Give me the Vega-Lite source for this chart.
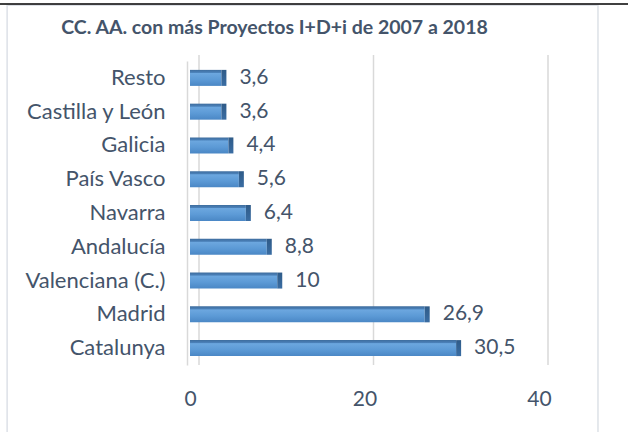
{
  "$schema": "https://vega.github.io/schema/vega-lite/v6.json",
  "width": 349,
  "height": 304,
  "autosize": {"type": "none"},
  "padding": {"left": 190, "top": 61, "right": 89, "bottom": 67},
  "background": "white",
  "config": {
    "locale": {"number": {"decimal": ",", "thousands": ".", "grouping": [3], "currency": ["", " €"]}},
    "view": {"stroke": null},
    "font": "Lato"
  },
  "title": {
    "text": "CC. AA. con más Proyectos I+D+i de 2007 a 2018",
    "font": "Lato",
    "fontSize": 19.5,
    "fontWeight": "bold",
    "color": "#44546A",
    "anchor": "middle",
    "frame": "group",
    "baseline": "alphabetic",
    "dx": -90,
    "offset": -50
  },
  "layer": [
    {
      "data": {"values": [{}]},
      "layer": [
        {
          "mark": {"type": "rect", "fill": "transparent", "stroke": "#DDE1E7", "strokeWidth": 1.5},
          "encoding": {
            "x": {"datum": -0.524, "type": "quantitative", "scale": {"domain": [0, 1]}, "axis": null},
            "x2": {"datum": 1.169},
            "y": {"datum": -0.263, "type": "quantitative", "scale": {"domain": [0, 1]}, "axis": null},
            "y2": {"datum": 1.183}
          }
        },
        {
          "mark": {"type": "rule", "color": "black", "strokeWidth": 1.6},
          "encoding": {
            "x": {"datum": -0.6, "type": "quantitative"},
            "x2": {"datum": 1.3},
            "y": {"datum": 1.1875, "type": "quantitative"}
          }
        }
      ]
    },
    {
      "data": {
        "values": [
          {"region": "Resto", "value": 3.6},
          {"region": "Castilla y León", "value": 3.6},
          {"region": "Galicia", "value": 4.4},
          {"region": "País Vasco", "value": 5.6},
          {"region": "Navarra", "value": 6.4},
          {"region": "Andalucía", "value": 8.8},
          {"region": "Valenciana (C.)", "value": 10},
          {"region": "Madrid", "value": 26.9},
          {"region": "Catalunya", "value": 30.5}
        ]
      },
      "encoding": {
        "y": {
          "field": "region",
          "type": "nominal",
          "sort": ["Resto", "Castilla y León", "Galicia", "País Vasco", "Navarra", "Andalucía", "Valenciana (C.)", "Madrid", "Catalunya"],
          "scale": {"paddingInner": 0.526, "paddingOuter": 0.263},
          "axis": {
            "orient": "left",
            "title": null,
            "ticks": false,
            "domainColor": "#D9D9D9",
            "domainWidth": 1.5,
            "offset": 3,
            "labelPadding": 22,
            "labelFont": "Lato",
            "labelFontSize": 22,
            "labelColor": "#44546A"
          }
        },
        "x": {
          "field": "value",
          "type": "quantitative",
          "scale": {"domain": [0, 40]},
          "axis": {
            "orient": "bottom",
            "title": null,
            "values": [0, 20, 40],
            "ticks": false,
            "domain": false,
            "grid": false,
            "labelFlush": false,
            "labelPadding": 23,
            "labelFont": "Lato",
            "labelFontSize": 21,
            "labelColor": "#44546A"
          }
        }
      },
      "layer": [
        {
          "data": {"values": [{"t": 0}, {"t": 20}, {"t": 40}]},
          "mark": {"type": "rule", "color": "#D9D9D9", "strokeWidth": 1.5, "xOffset": 9, "yOffset": -6},
          "encoding": {
            "x": {"field": "t", "type": "quantitative"},
            "y": null
          }
        },
        {
          "mark": {
            "type": "bar",
            "color": {
              "gradient": "linear",
              "x1": 0, "y1": 0, "x2": 0, "y2": 1,
              "stops": [
                {"offset": 0, "color": "#3E6D9E"},
                {"offset": 0.16, "color": "#4A80B8"},
                {"offset": 0.22, "color": "#6CA7DF"},
                {"offset": 0.6, "color": "#5C9AD6"},
                {"offset": 1, "color": "#4A87C5"}
              ]
            }
          }
        },
        {
          "mark": {
            "type": "bar",
            "x2Offset": 5,
            "color": {
              "gradient": "linear",
              "x1": 0, "y1": 0, "x2": 0, "y2": 1,
              "stops": [
                {"offset": 0, "color": "#2F5B88"},
                {"offset": 1, "color": "#3A6DA3"}
              ]
            }
          },
          "encoding": {"x2": {"field": "value"}}
        },
        {
          "mark": {"type": "text", "align": "left", "baseline": "middle", "dx": 18, "font": "Lato", "fontSize": 21, "color": "#44546A"},
          "encoding": {"text": {"field": "value", "type": "quantitative", "format": ".1~f"}}
        }
      ]
    }
  ],
  "resolve": {"scale": {"x": "independent", "y": "independent"}}
}
